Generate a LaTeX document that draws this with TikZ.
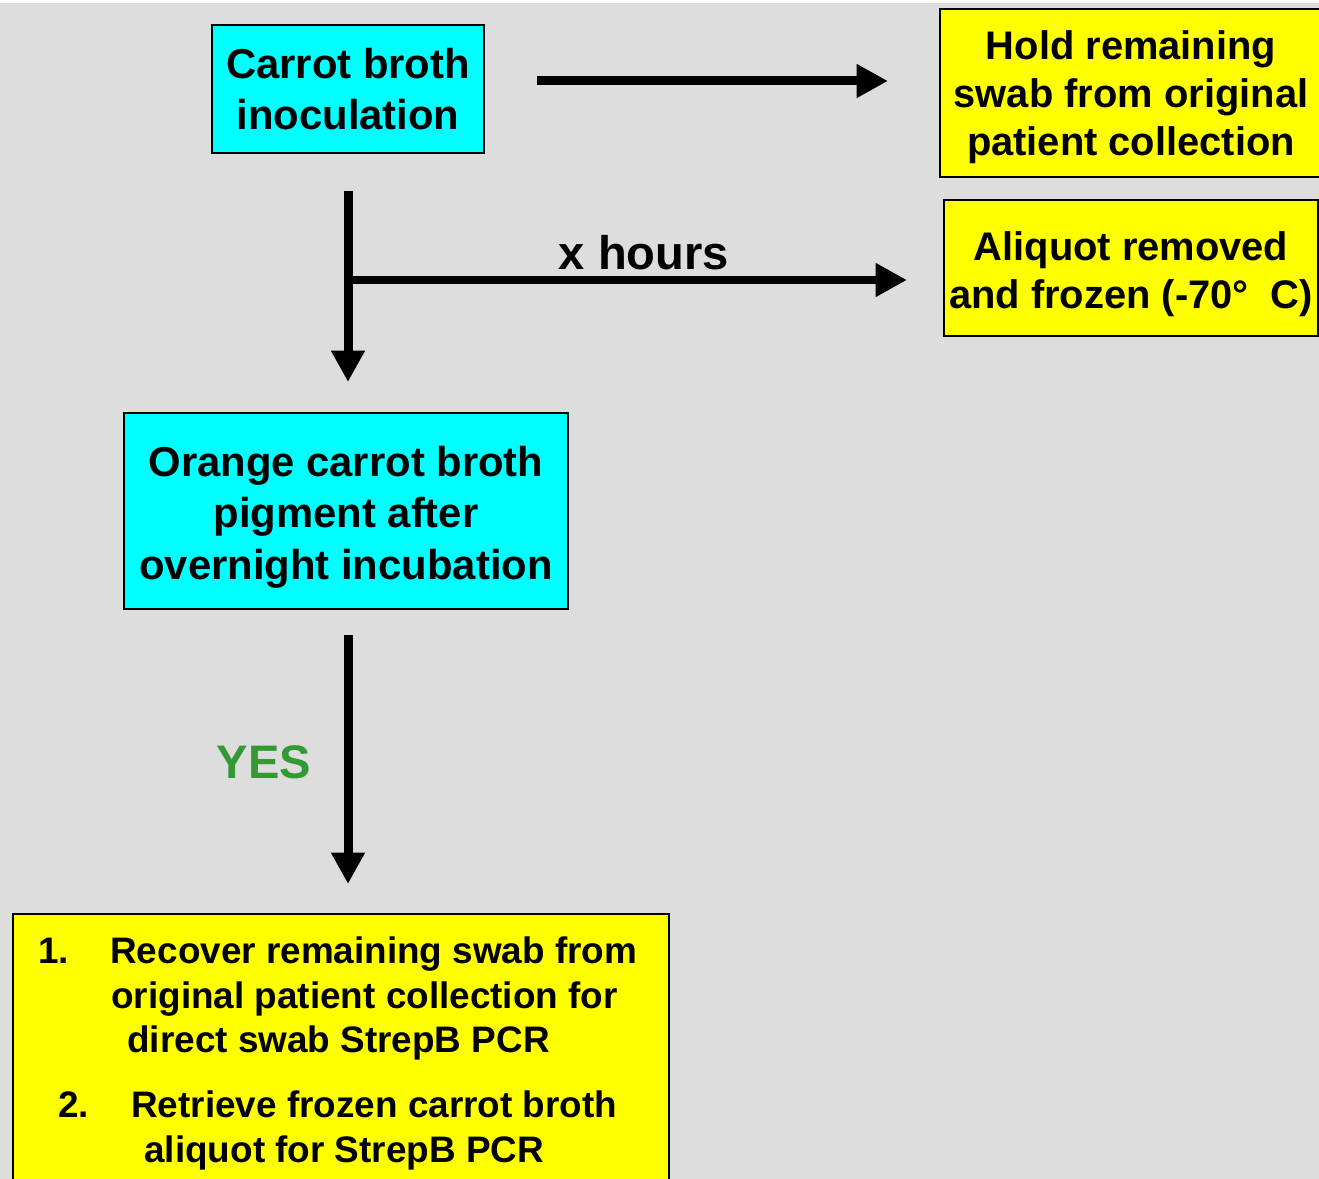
\documentclass[tikz,border=0pt]{standalone}
\usepackage{fontspec}
\setmainfont{Liberation Sans}
\usetikzlibrary{arrows.meta}

\definecolor{bggray}{RGB}{221,221,221}
\definecolor{boxcyan}{RGB}{0,255,255}
\definecolor{boxyellow}{RGB}{255,255,0}
\definecolor{yesgreen}{RGB}{51,153,51}

% taller first line, to push the text of a box down a little
\newcommand{\padtop}[1]{\rule{0pt}{#1}}

\tikzset{
  cyanbox/.style={draw=black, line width=0.04cm, fill=boxcyan, inner sep=0pt,
    align=center, font=\fontsize{23.8pt}{29.2pt}\selectfont\bfseries},
  yellowbox/.style={draw=black, line width=0.04cm, fill=boxyellow, inner sep=0pt,
    align=center, font=\fontsize{22.7pt}{27.5pt}\selectfont\bfseries},
  listtext/.style={inner sep=0pt, anchor=base west,
    font=\fontsize{21pt}{25pt}\selectfont\bfseries},
  lbl/.style={inner sep=0pt, anchor=base, font=\fontsize{26.8pt}{32pt}\selectfont\bfseries},
  flow/.style={line width=0.18cm, -{Triangle[length=0.63cm,width=0.64cm]}}
}

\begin{document}
\begin{tikzpicture}[x=0.02cm, y=-0.02cm]
  \clip (0,0) rectangle (1319,1179);
  \fill[bggray] (0,0) rectangle (1319,1179);
  \fill[white] (0,0) rectangle (1319,3);

  % boxes
  \node[cyanbox, minimum width=5.44cm, minimum height=2.56cm] (inoc) at (348,89)
    {Carrot broth\\inoculation};
  \node[yellowbox, minimum width=7.64cm, minimum height=3.36cm] (hold) at (1131,93)
    {\padtop{21.1pt}Hold remaining\\swab from original\\patient collection};
  \node[yellowbox, minimum width=7.48cm, minimum height=2.72cm] (aliq) at (1131,268)
    {\padtop{23.4pt}Aliquot removed\\and frozen (-70°\ \ C)};
  \node[cyanbox, minimum width=8.88cm, minimum height=3.92cm] (pigm) at (346,511)
    {\padtop{24.2pt}Orange carrot broth\\pigment after\\overnight incubation};
  \node[yellowbox, minimum width=13.12cm, minimum height=6cm, anchor=north west] (recov) at (12,913) {};

  % list in the last box
  \node[listtext] (num1) at (38,963) {1.};
  \node[listtext] (rec1) at (110,963) {Recover remaining swab from};
  \node[listtext] (rec2) at (111,1008) {original patient collection for};
  \node[listtext] (rec3) at (127,1052) {direct swab StrepB PCR};
  \node[listtext] (num2) at (58,1117) {2.};
  \node[listtext] (ret1) at (131,1117) {Retrieve frozen carrot broth};
  \node[listtext] (ret2) at (144,1162) {aliquot for StrepB PCR};

  % arrows
  \coordinate (hold-in) at (537,81);
  \coordinate (hold-tip) at (888,81);
  \coordinate (inoc-out) at (348,191);
  \coordinate (pigm-tip) at (348,382);
  \coordinate (split) at (348,280);
  \coordinate (aliq-tip) at (907,280);
  \coordinate (pigm-out) at (348,635);
  \coordinate (recov-tip) at (348,884);

  \draw[flow] (hold-in) -- (hold-tip);
  \draw[flow] (inoc-out) -- (pigm-tip);
  \draw[flow] (split) -- (aliq-tip);
  \draw[flow] (pigm-out) -- (recov-tip);

  \node[lbl] (hours) at (644,270) {x hours};
  \node[lbl, text=yesgreen] (yes) at (264,778) {YES};
\end{tikzpicture}
\end{document}
